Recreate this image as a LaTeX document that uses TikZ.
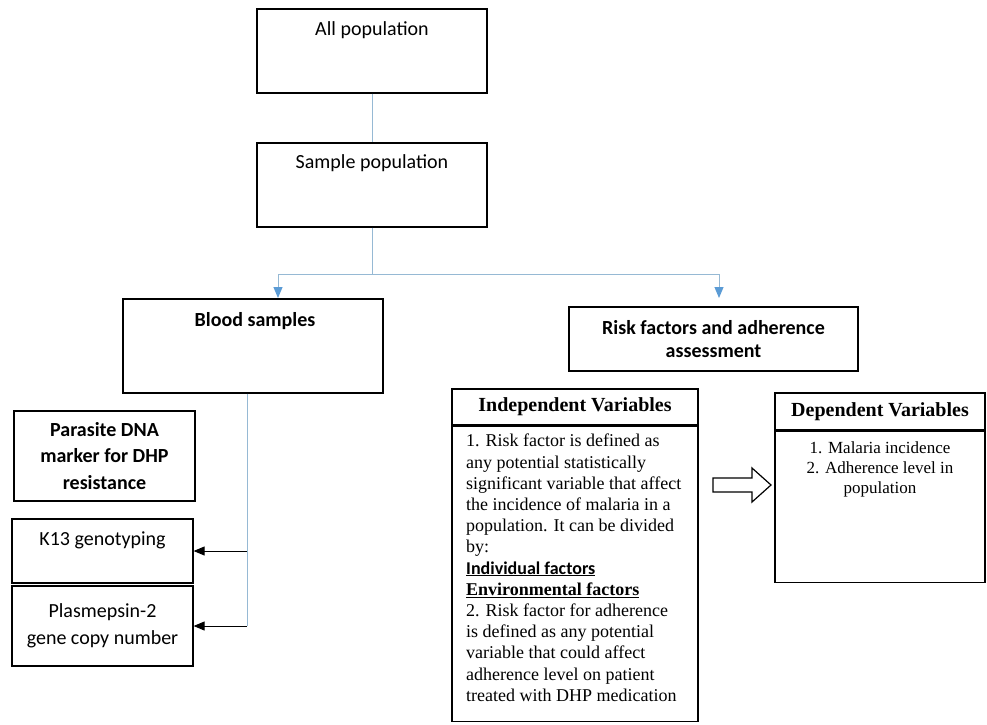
\documentclass[tikz,border=0pt]{standalone}
\usepackage{fontspec}
\setmainfont{Carlito}
\newfontfamily\tnr{Liberation Serif}
\usetikzlibrary{arrows.meta}

\definecolor{linecol}{RGB}{150,185,212}
\definecolor{tipcol}{RGB}{91,155,213}

\tikzset{
  box/.style={draw,rectangle,line width=1.2pt,inner sep=0pt},
  hbox/.style={box,line width=1.5pt,font=\tnr\fontsize{20}{24}\selectfont\bfseries},
  lbl/.style={font=\fontsize{20}{24}\selectfont,align=center},
  conn/.style={draw=linecol,line width=1pt},
  blk/.style={draw=black,line width=0.9pt}
}

\begin{document}
\begin{tikzpicture}[x=1pt,y=-1pt,>={Triangle[length=11pt,width=9pt]}]
\useasboundingbox (0,0) rectangle (987,724);

% top of the tree
\node[box,minimum width=230pt,minimum height=84pt] (allpop) at (372,51) {};
\node[lbl] (allpoptext) at (372,30) {All population};
\node[box,minimum width=230pt,minimum height=84pt] (samplepop) at (372,185) {};
\node[lbl] (sampletext) at (372,163) {Sample population};

% two branches
\node[box,minimum width=260pt,minimum height=94pt] (blood) at (253,346) {};
\node[lbl,font=\fontsize{20}{24}\selectfont\bfseries] (bloodtext) at (255,321) {Blood samples};
\node[box,lbl,font=\fontsize{20}{23.5}\selectfont\bfseries,minimum width=289pt,minimum height=64pt]
  (risk) at (713.5,339) {Risk factors and adherence\\assessment};

% laboratory side
\node[box,lbl,font=\fontsize{20}{26.5}\selectfont\bfseries,minimum width=181pt,minimum height=90pt]
  (parasite) at (104.5,456) {Parasite DNA\\marker for DHP\\resistance};
\node[box,minimum width=181pt,minimum height=64pt] (k13) at (102.5,551) {};
\node[lbl] (k13text) at (102.5,540) {K13 genotyping};
\node[box,lbl,font=\fontsize{20}{27}\selectfont,minimum width=181pt,minimum height=80pt]
  (plasm) at (102.5,626) {Plasmepsin-2\\gene copy number};

% variables side
\node[hbox,minimum width=246pt,minimum height=36pt] (indephead) at (575,407) {Independent Variables};
\node[box,minimum width=246pt,minimum height=295pt,anchor=north] (indepbody) at (indephead.south) {};
\node[anchor=north west,align=left,inner sep=0pt,font=\tnr\fontsize{18}{21.2}\selectfont]
  (indeptext) at (466,434) {1. Risk factor is defined as\\
  any potential statistically\\
  significant variable that affect\\
  the incidence of malaria in a\\
  population. It can be divided\\
  by:\\
  {\normalfont\bfseries\underline{Individual factors}}\\
  {\bfseries\underline{Environmental factors}}\\
  2. Risk factor for adherence\\
  is defined as any potential\\
  variable that could affect\\
  adherence level on patient\\
  treated with DHP medication};

\node[hbox,minimum width=210pt,minimum height=37pt] (dephead) at (880,411.5) {Dependent Variables};
\node[box,minimum width=210pt,minimum height=151pt,anchor=north] (depbody) at (dephead.south) {};
\node[anchor=north,align=center,inner sep=0pt,font=\tnr\fontsize{17}{20}\selectfont]
  (deptext) at (880,441) {1. Malaria incidence\\2. Adherence level in\\population};

\draw[line width=1.2pt] (713,478) -- (752,478) -- (752,468) -- (771,485)
  -- (752,502) -- (752,492) -- (713,492) -- cycle;

% connectors
\coordinate (fork) at (samplepop.south |- 0,274);
\coordinate (bloodin) at (278,298);
\coordinate (riskin) at (719,298);
\draw[conn] (allpop.south) -- (samplepop.north);
\draw[conn] (samplepop.south) -- (fork);
\draw[conn,-{Triangle[length=11pt,width=9pt,color=tipcol]}] (fork) -| (bloodin);
\draw[conn,-{Triangle[length=11pt,width=9pt,color=tipcol]}] (fork) -| (riskin);

\coordinate (spine) at ([xshift=-6pt]blood.south |- plasm.east);
\draw[conn] ([xshift=-6pt]blood.south) -- (spine);
\draw[blk,->] (spine |- k13.east) -- (k13.east);
\draw[blk,->] (spine) -- (plasm.east);
\end{tikzpicture}
\end{document}
